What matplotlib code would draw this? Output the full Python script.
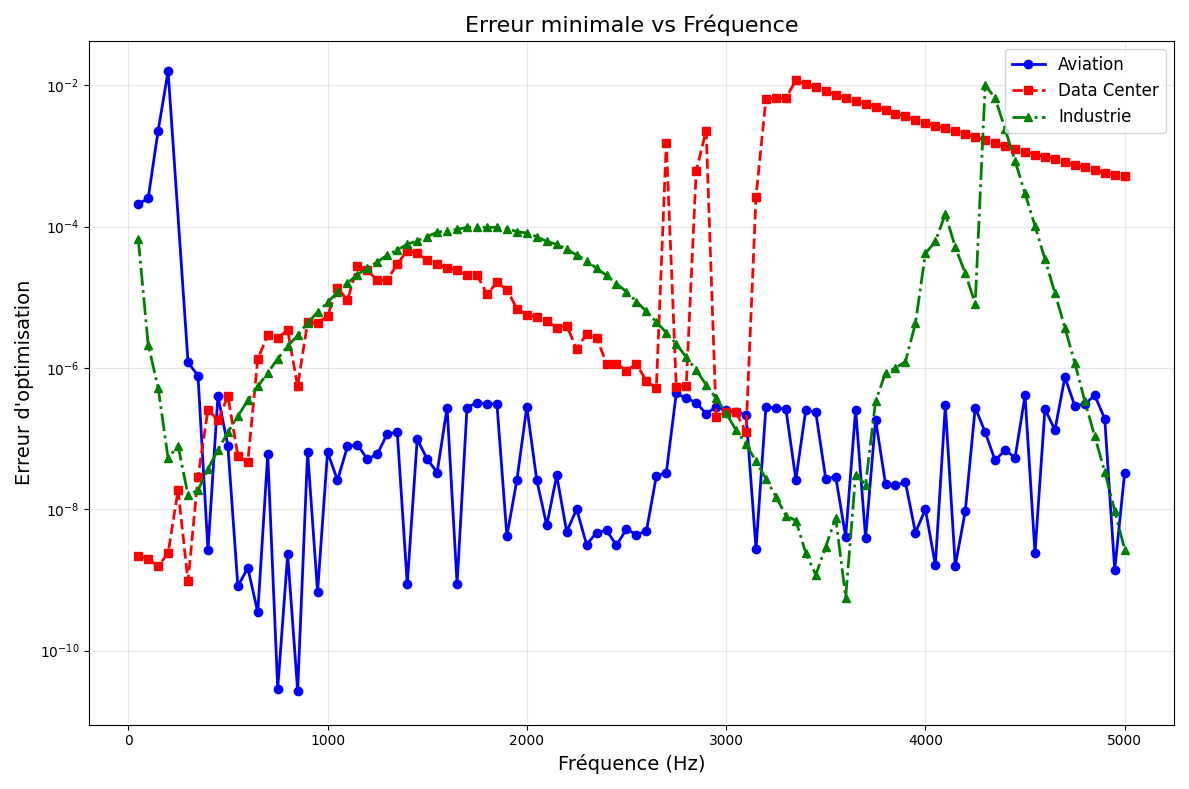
import numpy as np
import matplotlib.pyplot as plt

FREQS = list(range(50, 5001, 50))
# Aviation has no point at 250 Hz
FREQS_AVIATION = [f for f in FREQS if f != 250]
Y_TICKS = [1e-10, 1e-8, 1e-6, 1e-4, 1e-2]

# log10 of the minimal error
aviation_log10 = [
    -3.68, -3.60, -2.64, -1.80, -5.92, -6.11, -8.58, -6.40, -7.10, -9.09,
    -8.83, -9.46, -7.22, -10.54, -8.64, -10.57, -7.19, -9.17, -7.19, -7.59,
    -7.11, -7.09, -7.29, -7.22, -6.93, -6.91, -9.06, -7.01, -7.29, -7.48,
    -6.56, -9.06, -6.56, -6.49, -6.51, -6.51, -8.38, -7.59, -6.55, -7.59,
    -8.23, -7.52, -8.32, -8.00, -8.50, -8.33, -8.30, -8.51, -8.28, -8.36,
    -8.31, -7.53, -7.48, -6.36, -6.43, -6.49, -6.65, -6.55, -6.60, -6.62,
    -6.66, -8.56, -6.55, -6.57, -6.58, -7.58, -6.59, -6.63, -7.57, -7.54,
    -8.39, -6.59, -8.41, -6.73, -7.64, -7.66, -7.62, -8.33, -8.00, -8.79,
    -6.53, -8.80, -8.03, -6.56, -6.91, -7.31, -7.16, -7.27, -6.39, -8.62,
    -6.58, -6.88, -6.13, -6.54, -6.51, -6.39, -6.72, -8.86, -7.48,
]
datacenter_log10 = [
    -8.66, -8.70, -8.81, -8.62, -7.73, -9.02, -7.54, -6.59, -6.74, -6.40,
    -7.24, -7.33, -5.87, -5.54, -5.57, -5.47, -6.26, -5.35, -5.37, -5.26,
    -4.87, -5.04, -4.56, -4.62, -4.76, -4.75, -4.53, -4.34, -4.38, -4.47,
    -4.53, -4.59, -4.61, -4.69, -4.68, -4.96, -4.79, -4.89, -5.16, -5.25,
    -5.28, -5.34, -5.43, -5.40, -5.73, -5.52, -5.57, -5.94, -5.94, -6.04,
    -5.94, -6.19, -6.28, -2.81, -6.27, -6.25, -3.21, -2.64, -6.70, -6.63,
    -6.63, -6.91, -3.58, -2.19, -2.18, -2.18, -1.93, -1.98, -2.02, -2.08,
    -2.13, -2.18, -2.22, -2.26, -2.30, -2.35, -2.40, -2.44, -2.49, -2.53,
    -2.57, -2.61, -2.65, -2.69, -2.73, -2.78, -2.82, -2.86, -2.90, -2.94,
    -2.98, -3.01, -3.04, -3.08, -3.13, -3.16, -3.20, -3.24, -3.27, -3.29,
]
industrie_log10 = [
    -4.17, -5.67, -6.28, -7.28, -7.10, -7.80, -7.73, -7.43, -7.16, -6.91,
    -6.68, -6.46, -6.26, -6.07, -5.87, -5.69, -5.54, -5.36, -5.21, -5.07,
    -4.93, -4.80, -4.68, -4.58, -4.50, -4.40, -4.33, -4.25, -4.20, -4.14,
    -4.08, -4.06, -4.04, -4.01, -4.01, -4.01, -4.01, -4.03, -4.07, -4.09,
    -4.14, -4.21, -4.25, -4.32, -4.40, -4.48, -4.59, -4.69, -4.81, -4.92,
    -5.06, -5.20, -5.35, -5.50, -5.66, -5.85, -6.03, -6.24, -6.43, -6.64,
    -6.88, -7.08, -7.32, -7.57, -7.82, -8.09, -8.16, -8.62, -8.93, -8.53,
    -8.12, -9.25, -7.51, -7.65, -6.47, -6.07, -6.00, -5.91, -5.37, -4.38,
    -4.21, -3.82, -4.29, -4.66, -5.09, -2.00, -2.18, -2.62, -3.07, -3.53,
    -3.99, -4.46, -4.94, -5.43, -5.93, -6.47, -6.97, -7.47, -8.02, -8.57,
]

fig, ax = plt.subplots(figsize=(11.89, 7.89), dpi=100)

ax.plot(FREQS_AVIATION, 10 ** np.array(aviation_log10), color="blue", linestyle="-",
        marker="o", linewidth=2, markersize=6, label="Aviation")
ax.plot(FREQS, 10 ** np.array(datacenter_log10), color="red", linestyle="--",
        marker="s", linewidth=2, markersize=6, label="Data Center")
ax.plot(FREQS, 10 ** np.array(industrie_log10), color="green", linestyle="-.",
        marker="^", linewidth=2, markersize=6, label="Industrie")

ax.set_yscale("log")
ax.set_ylim(10 ** -11.05, 10 ** -1.37)
ax.set_yticks(Y_TICKS)
ax.minorticks_off()
ax.set_title("Erreur minimale vs Fréquence", fontsize=16)
ax.set_xlabel("Fréquence (Hz)", fontsize=14)
ax.set_ylabel("Erreur d'optimisation", fontsize=14)
ax.grid(True, alpha=0.3)
ax.legend(loc="upper right", fontsize=12)

fig.tight_layout()
fig.savefig("out.png", dpi=100)
